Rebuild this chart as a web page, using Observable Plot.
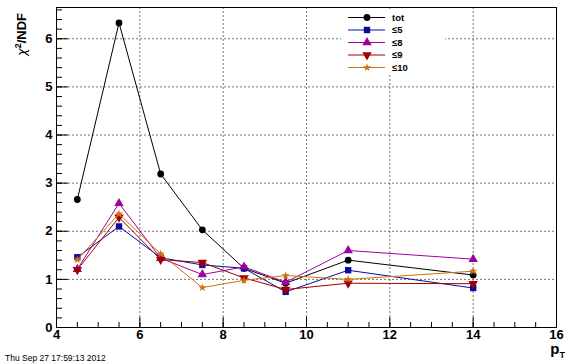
<!DOCTYPE html>
<html><head><meta charset="utf-8">
<script src="https://cdn.jsdelivr.net/npm/d3@7"></script>
<script src="https://cdn.jsdelivr.net/npm/@observablehq/plot@0.6"></script>
<style>
html,body{margin:0;padding:0;background:#fff;}
#chart svg{display:block;}
#chart svg text{font-family:"Liberation Sans",Arial,sans-serif;font-weight:bold;}
</style></head>
<body><div id="chart"></div>
<script>
const pt = [4.5, 5.5, 6.5, 7.5, 8.5, 9.5, 11, 14];
const tot = [2.66, 6.33, 3.19, 2.03, 1.23, 0.92, 1.40, 1.09];
const s5  = [1.46, 2.10, 1.45, 1.30, 1.23, 0.74, 1.19, 0.82];
const s8  = [1.21, 2.58, 1.44, 1.10, 1.26, 0.94, 1.60, 1.42];
const s9  = [1.20, 2.29, 1.41, 1.35, 1.03, 0.79, 0.92, 0.91];
const s10 = [1.41, 2.36, 1.53, 0.83, 0.98, 1.08, 1.00, 1.17];
const seriesNames = ["tot", "\u22645", "\u22648", "\u22649", "\u226410"];
const seriesValues = [tot, s5, s8, s9, s10];
const xMajor = [4, 6, 8, 10, 12, 14, 16];
const yMajor = [0, 1, 2, 3, 4, 5, 6];

const sqrt3 = Math.sqrt(3);
const triangleDown = {draw(ctx, size) {
  const y = -Math.sqrt(size / (sqrt3 * 3));
  ctx.moveTo(0, -y * 2); ctx.lineTo(-sqrt3 * y, y); ctx.lineTo(sqrt3 * y, y); ctx.closePath();
}};
const colors = ["#000000", "#0a0a9c", "#a000a0", "#a00000", "#d27008"];
const symbols = [d3.symbolCircle, d3.symbolSquare, d3.symbolTriangle, triangleDown, d3.symbolStar];
const rs = [3.4, 3.6, 3.5, 3.5, 2.6];

const W = 567, H = 364, mL = 56, mR = 11, mT = 7, mB = 37;
const pw = W - mL - mR, ph = H - mT - mB;
const xMinor = d3.range(4, 16.001, 0.5);
const yMinor = d3.range(0, 6.65, 0.2);

const marks = [
  Plot.gridX(xMajor.slice(1, -1), {stroke: "#666", strokeOpacity: 0.9, strokeDasharray: "2,2"}),
  Plot.gridY(yMajor.slice(1), {stroke: "#666", strokeOpacity: 0.9, strokeDasharray: "2,2"}),
  Plot.tickX(xMinor, {x: d => d, insetTop: ph - 5, stroke: "#000"}),
  Plot.tickX(xMajor, {x: d => d, insetTop: ph - 10, stroke: "#000"}),
  Plot.tickY(yMinor, {y: d => d, insetRight: pw - 6, stroke: "#000"}),
  Plot.tickY(yMajor, {y: d => d, insetRight: pw - 12, stroke: "#000"}),
  Plot.axisX(xMajor, {tickSize: 0, tickPadding: 2, fontSize: 13, label: null}),
  Plot.axisY(yMajor, {tickSize: 0, tickPadding: 4, fontSize: 13, label: null}),
  Plot.frame({stroke: "#000"})
];
seriesValues.forEach((vals, i) => {
  const data = pt.map((x, j) => ({x, y: vals[j]}));
  marks.push(Plot.line(data, {x: "x", y: "y", stroke: colors[i], strokeWidth: 1}));
  marks.push(Plot.dot(data, {x: "x", y: "y", fill: colors[i], stroke: "none", symbol: symbols[i], r: rs[i]}));
});

const plot = Plot.plot({
  width: W, height: H,
  marginLeft: mL, marginRight: mR, marginTop: mT, marginBottom: mB,
  x: {domain: [4, 16]},
  y: {domain: [0, 6.65]},
  style: {background: "#fff", color: "#000"},
  marks
});
document.getElementById("chart").appendChild(plot);

const svg = d3.select(plot);
// Legend
const lg = svg.append("g").attr("text-anchor", "start");
lg.append("rect").attr("x", 341).attr("y", 10).attr("width", 104).attr("height", 64).attr("fill", "#fff");
const ly = [17.5, 30, 42.5, 55, 67.5];
seriesNames.forEach((name, i) => {
  lg.append("line").attr("x1", 348).attr("x2", 385).attr("y1", ly[i]).attr("y2", ly[i])
    .attr("stroke", colors[i]).attr("stroke-width", 1);
  lg.append("path").attr("transform", `translate(367,${ly[i]})`)
    .attr("d", d3.symbol().type(symbols[i]).size(Math.PI * rs[i] * rs[i])())
    .attr("fill", colors[i]);
  lg.append("text").attr("x", 392).attr("y", ly[i]).attr("dy", "0.35em")
    .attr("font-size", 9.5).text(name);
});
// Y title
const yt = svg.append("text").attr("transform", "translate(26,13) rotate(-90)")
  .attr("text-anchor", "end").attr("font-size", 13);
yt.append("tspan").attr("font-family", "DejaVu Sans").attr("font-style", "italic").attr("font-weight", "normal").text("\u03c7");
yt.append("tspan").attr("font-size", 9).attr("dy", -5).text("2");
yt.append("tspan").attr("dy", 5).text("/NDF");
// X title
const xt = svg.append("text").attr("x", 565).attr("y", 354).attr("font-size", 15).attr("text-anchor", "end");
xt.append("tspan").text("p");
xt.append("tspan").attr("font-size", 9).attr("dy", 4).text("T");
// Date
svg.append("text").attr("x", 5).attr("y", 361).attr("font-size", 8.5).attr("text-anchor", "start")
  .attr("style", "font-weight:normal").text("Thu Sep 27 17:59:13 2012");
</script>
</body></html>
